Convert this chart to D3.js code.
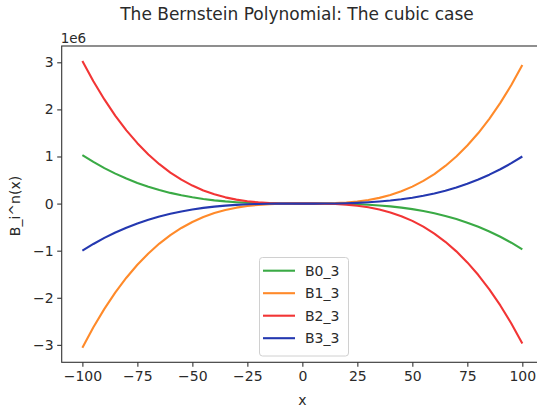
<!DOCTYPE html>
<html lang="en">
    <head>
        <meta charset="utf-8">
        <title>Bernstein cubic</title>
        <script type="text/javascript" src="https://cdn.jsdelivr.net/npm/d3@7"></script>
        <style>
        body { margin: 0; background: #fff; }
        .axis path,
        .axis line {
            fill: none;
            stroke: #333;
            stroke-width: 1.1px;
        }
        .axis text {
            font-family: "DejaVu Sans", sans-serif;
            font-size: 14px;
            fill: #2a2a2a;
        }
        text { font-family: "DejaVu Sans", sans-serif; fill: #2a2a2a; }
        </style>
    </head>
    <body>
        <script type="text/javascript">

            var w = 537;
            var h = 409;

            // x samples
            var xs = [-100, -95, -90, -85, -80, -75, -70, -65, -60, -55, -50,
                      -45, -40, -35, -30, -25, -20, -15, -10, -5, 0,
                      5, 10, 15, 20, 25, 30, 35, 40, 45, 50,
                      55, 60, 65, 70, 75, 80, 85, 90, 95, 100];

            // values in units of 1e6
            var b0 = [1.0303, 0.8847, 0.7536, 0.6361, 0.5314, 0.4390, 0.3579, 0.2875, 0.2270, 0.1756, 0.1327,
                      0.0973, 0.0689, 0.0467, 0.0298, 0.0176, 0.0093, 0.0041, 0.0013, 0.0002, 0,
                      -0.0001, -0.0007, -0.0027, -0.0069, -0.0138, -0.0244, -0.0393, -0.0593, -0.0852, -0.1176,
                      -0.1575, -0.2054, -0.2621, -0.3285, -0.4052, -0.4930, -0.5927, -0.7050, -0.8306, -0.9703];
            var b1 = [-3.0603, -2.6266, -2.2359, -1.8860, -1.5746, -1.2996, -1.0586, -0.8494, -0.6698, -0.5174, -0.3902,
                      -0.2857, -0.2017, -0.1361, -0.0865, -0.0507, -0.0265, -0.0115, -0.0036, -0.0005, 0,
                      0.0002, 0.0024, 0.0088, 0.0217, 0.0432, 0.0757, 0.1214, 0.1825, 0.2614, 0.3602,
                      0.4811, 0.6266, 0.7987, 0.9998, 1.2321, 1.4978, 1.7993, 2.1387, 2.5183, 2.9403];
            var b2 = [3.0300, 2.5992, 2.2113, 1.8641, 1.5552, 1.2825, 1.0437, 0.8366, 0.6588, 0.5082, 0.3825,
                      0.2795, 0.1968, 0.1323, 0.0837, 0.0488, 0.0252, 0.0108, 0.0033, 0.0005, 0,
                      -0.0003, -0.0027, -0.0095, -0.0228, -0.0450, -0.0783, -0.1250, -0.1872, -0.2673, -0.3675,
                      -0.4901, -0.6372, -0.8112, -1.0143, -1.2488, -1.5168, -1.8207, -2.1627, -2.5451, -2.9700];
            var b3 = [-1.0000, -0.8574, -0.7290, -0.6141, -0.5120, -0.4219, -0.3430, -0.2746, -0.2160, -0.1664, -0.1250,
                      -0.0911, -0.0640, -0.0429, -0.0270, -0.0156, -0.0080, -0.0034, -0.0010, -0.0001, 0,
                      0.0001, 0.0010, 0.0034, 0.0080, 0.0156, 0.0270, 0.0429, 0.0640, 0.0911, 0.1250,
                      0.1664, 0.2160, 0.2746, 0.3430, 0.4219, 0.5120, 0.6141, 0.7290, 0.8574, 1.0000];

            var names = ["B0_3", "B1_3", "B2_3", "B3_3"];
            var colors = ["#3aaa45", "#ff8a2a", "#f23535", "#2438b0"];

            var xTicks = [-100, -75, -50, -25, 0, 25, 50, 75, 100];
            var yTicks = [-3, -2, -1, 0, 1, 2, 3];

            var series = [b0, b1, b2, b3];

            /////////////////////////////////////////////////
            // plot box (right spine falls just off the picture)
            /////////////////////////////////////////////////
            var boxL = 61.7, boxR = 543, boxT = 46, boxB = 362.3;

            var x = d3.scaleLinear().domain([-109.4, 109.4]).range([boxL, boxR]);
            var y = d3.scaleLinear().domain([-3.37, 3.346]).range([boxB, boxT]);

            var svg = d3.select("body").append("svg")
                .attr("width", w)
                .attr("height", h);

            svg.append("rect")
                .attr("width", w)
                .attr("height", h)
                .attr("fill", "#fff");

            var fmt = function(d) { return d < 0 ? "\u2212" + Math.abs(d) : String(d); };

            // lines
            var line = d3.line()
                .x(function(d, i) { return x(xs[i]); })
                .y(function(d) { return y(d); });

            svg.selectAll("path.curve")
                .data(series)
                .enter()
                .append("path")
                .attr("class", "curve")
                .attr("d", line)
                .attr("fill", "none")
                .attr("stroke", function(d, i) { return colors[i]; })
                .attr("stroke-width", 2.1)
                .attr("stroke-linejoin", "round")
                .attr("stroke-linecap", "butt");

            // frame
            svg.append("rect")
                .attr("x", boxL)
                .attr("y", boxT)
                .attr("width", boxR - boxL)
                .attr("height", boxB - boxT)
                .attr("fill", "none")
                .attr("stroke", "#333")
                .attr("stroke-width", 1.1);

            // axes
            var xAxis = d3.axisBottom(x).tickValues(xTicks).tickFormat(fmt)
                .tickSize(4.5).tickPadding(4).tickSizeOuter(0);
            svg.append("g")
                .attr("class", "axis")
                .attr("transform", "translate(0," + boxB + ")")
                .call(xAxis)
                .call(function(g) { g.select(".domain").remove(); });

            var yAxis = d3.axisLeft(y).tickValues(yTicks).tickFormat(fmt)
                .tickSize(4.5).tickPadding(3.5).tickSizeOuter(0);
            svg.append("g")
                .attr("class", "axis")
                .attr("transform", "translate(" + boxL + ",0)")
                .call(yAxis)
                .call(function(g) { g.select(".domain").remove(); });

            // texts
            svg.append("text")
                .attr("x", 297)
                .attr("y", 20)
                .attr("text-anchor", "middle")
                .attr("font-size", "17px")
                .text("The Bernstein Polynomial: The cubic case");

            svg.append("text")
                .attr("x", boxL - 1)
                .attr("y", 43)
                .attr("font-size", "13.5px")
                .text("1e6");

            svg.append("text")
                .attr("x", (boxL + boxR) / 2)
                .attr("y", 405)
                .attr("text-anchor", "middle")
                .attr("font-size", "14px")
                .text("x");

            svg.append("text")
                .attr("transform", "translate(20,206) rotate(-90)")
                .attr("text-anchor", "middle")
                .attr("font-size", "14px")
                .text("B_i^n(x)");

            // legend
            var legend = svg.append("g");
            legend.append("rect")
                .attr("x", 259.5)
                .attr("y", 257.5)
                .attr("width", 89)
                .attr("height", 98.5)
                .attr("rx", 3)
                .attr("fill", "#fff")
                .attr("fill-opacity", 0.85)
                .attr("stroke", "#d0d0d0");

            var rows = legend.selectAll("g.row")
                .data(names)
                .enter()
                .append("g")
                .attr("class", "row")
                .attr("transform", function(d, i) { return "translate(0," + (270.7 + i * 22.5) + ")"; });

            rows.append("line")
                .attr("x1", 263)
                .attr("x2", 295)
                .attr("stroke", function(d, i) { return colors[i]; })
                .attr("stroke-width", 2.1);

            rows.append("text")
                .attr("x", 305)
                .attr("dy", "0.36em")
                .attr("font-size", "14px")
                .text(function(d) { return d; });

        </script>
    </body>
</html>
